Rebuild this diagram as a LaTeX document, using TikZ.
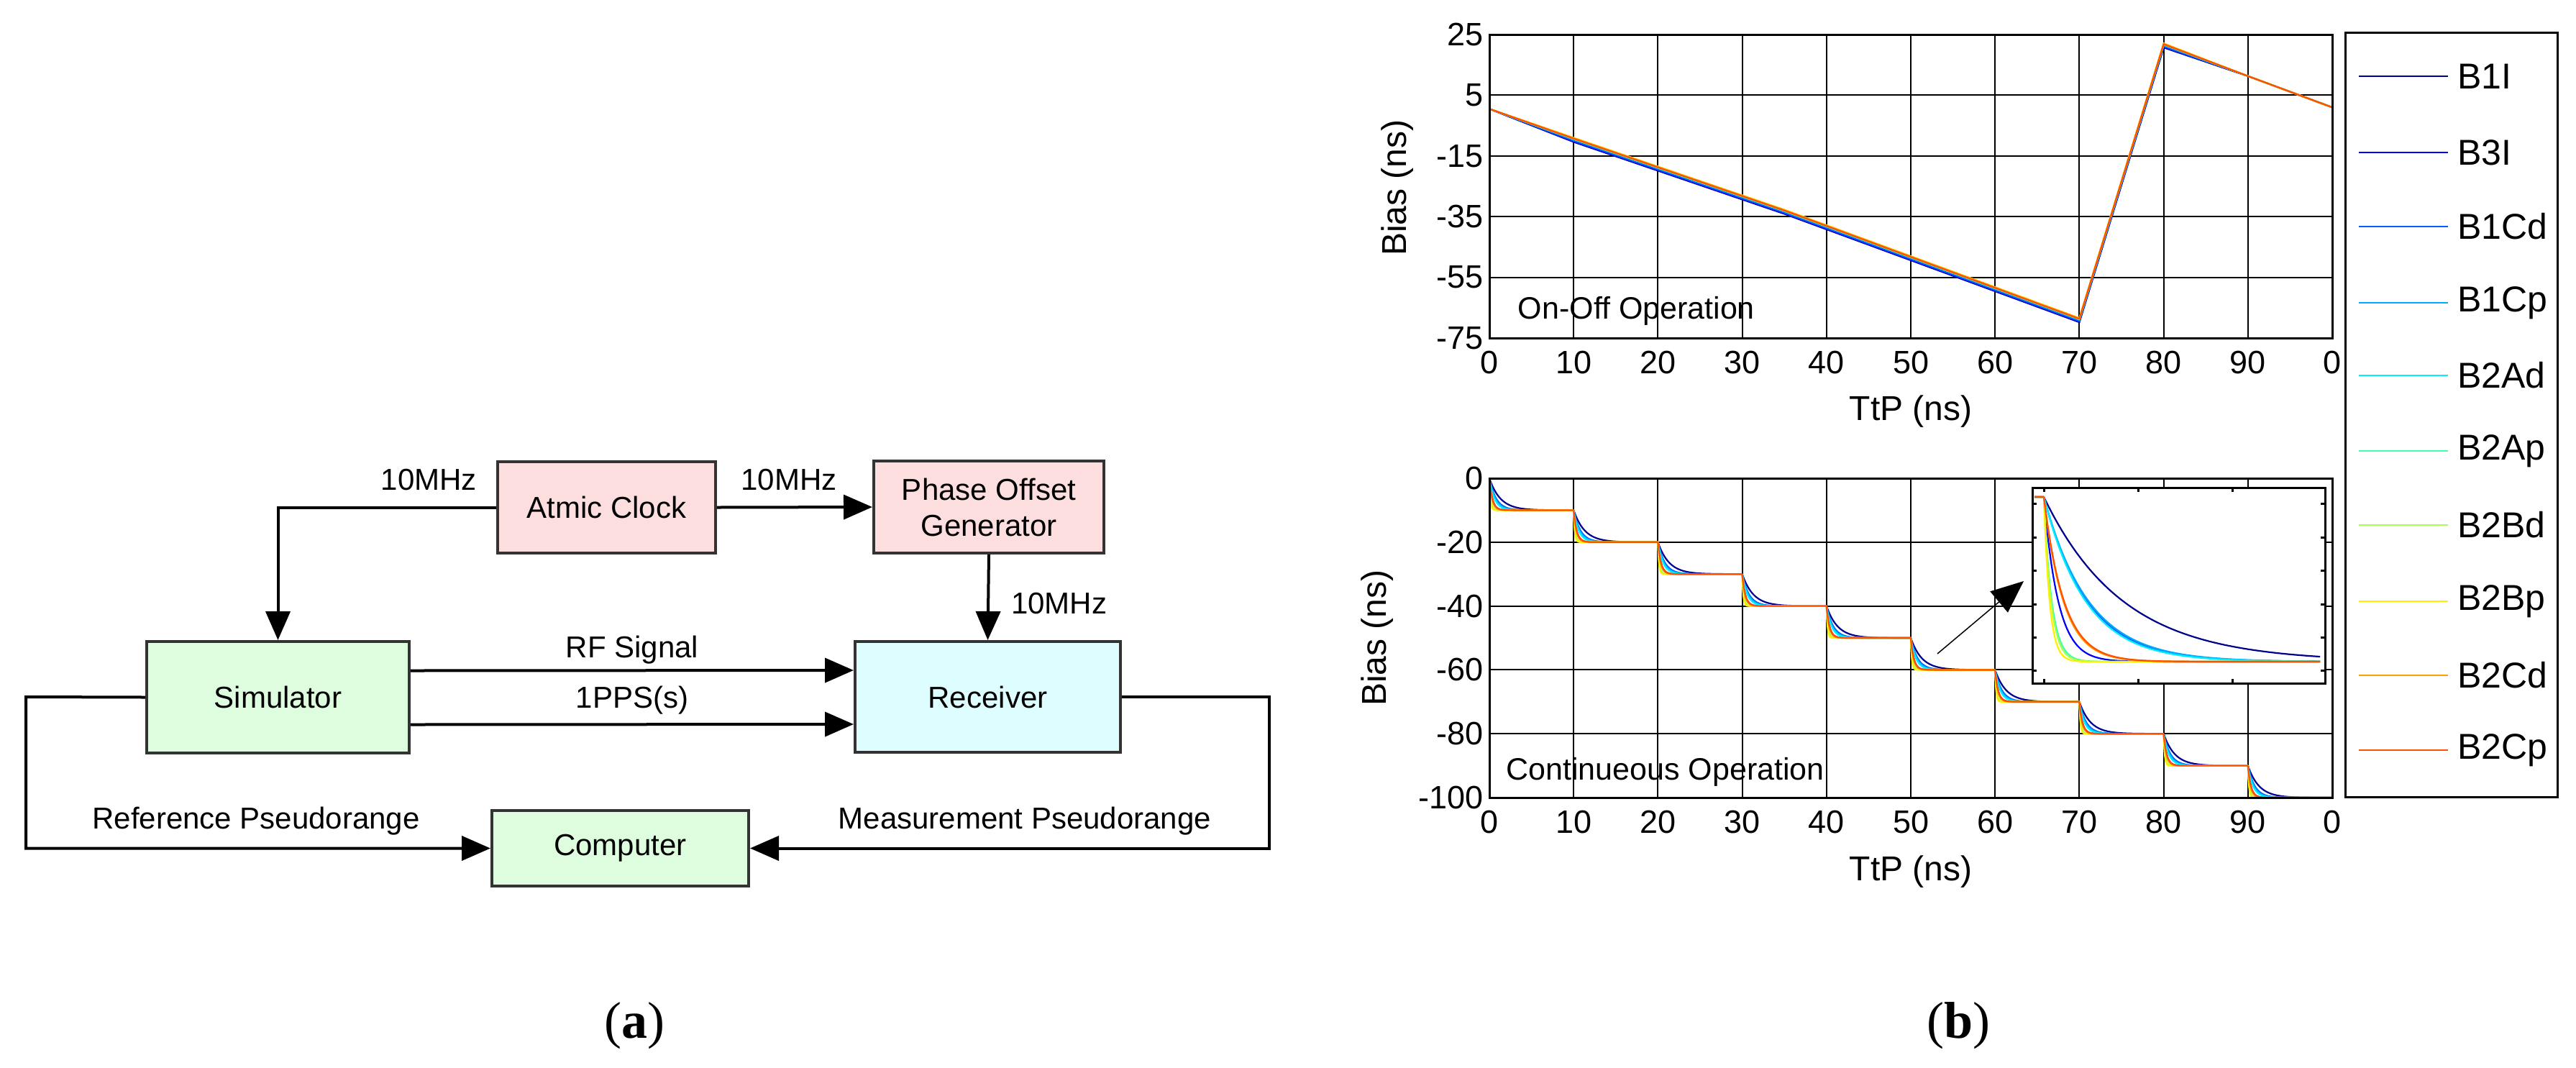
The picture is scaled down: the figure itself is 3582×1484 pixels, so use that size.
\documentclass[tikz,border=0pt]{standalone}
\usepackage{fontspec}
\setmainfont{Liberation Sans}
\newfontfamily\capfont{Liberation Serif}
\usetikzlibrary{arrows.meta}
\usetikzlibrary{calc}

\definecolor{clockpink}{HTML}{FDDEDF}
\definecolor{simgreen}{HTML}{DEFDDE}
\definecolor{rxcyan}{HTML}{DEFDFE}
\definecolor{cBoneI}{HTML}{00008F}
\definecolor{cBthreeI}{HTML}{0000FF}
\definecolor{cBoneCd}{HTML}{0060FF}
\definecolor{cBoneCp}{HTML}{00A8FF}
\definecolor{cBtwoAd}{HTML}{00F0FF}
\definecolor{cBtwoAp}{HTML}{40FFA8}
\definecolor{cBtwoBd}{HTML}{A8FF50}
\definecolor{cBtwoBp}{HTML}{FFF000}
\definecolor{cBtwoCd}{HTML}{FFA000}
\definecolor{cBtwoCp}{HTML}{FF5000}

\tikzset{
  block/.style={draw=black!80, line width=4pt, font=\fontsize{42}{50}\selectfont, align=center, inner sep=0pt},
  sig/.style={line width=4pt, -{Triangle[length=40pt,width=34pt]}},
  wire/.style={line width=4pt},
  lbl/.style={font=\fontsize{42}{50}\selectfont, inner sep=0pt},
  tick/.style={font=\fontsize{45}{50}\selectfont, inner sep=0pt},
  axlbl/.style={font=\fontsize{48}{55}\selectfont, inner sep=0pt},
  grid/.style={line width=2pt, black},
  curve/.style={line width=2.2pt},
}

\begin{document}
\begin{tikzpicture}[x=1pt,y=-1pt]
    \useasboundingbox (0,0) rectangle (3582,1484);

    % (a) block diagram
    \node[block, fill=clockpink, minimum width=303pt, minimum height=127pt] (clock) at (843.5,705.5) {Atmic Clock};
    \node[block, fill=clockpink, minimum width=320pt, minimum height=128pt] (phase) at (1375,705) {Phase Offset\\Generator};
    \node[block, fill=simgreen, minimum width=365pt, minimum height=155pt] (sim) at (386.5,969.5) {Simulator};
    \node[block, fill=rxcyan, minimum width=369pt, minimum height=154pt] (rx) at (1373.5,969) {Receiver};
    \node[block, fill=simgreen, minimum width=357pt, minimum height=105pt] (comp) at (862.5,1179.5) {Computer};

    \coordinate (leftloop) at (36,969);
    \coordinate (rightloop) at (1765,969);

    \draw[sig] (clock.west) -| (sim.north);
    \draw[sig] (clock.east) -- (phase.west);
    \draw[sig] (phase.south) -- (rx.north);
    \draw[sig] ([yshift=37pt]sim.east) -- ([yshift=37pt]rx.west);
    \draw[sig] ([yshift=-38pt]sim.east) -- ([yshift=-38pt]rx.west);
    \draw[sig] (sim.west) -- (leftloop) |- (comp.west);
    \draw[sig] (rx.east) -- (rightloop) |- (comp.east);

    \node[lbl, anchor=east] (fa) at (663,667) {10MHz};
    \node[lbl] (fb) at (1097,667) {10MHz};
    \node[lbl, anchor=west] (fc) at (1406,839) {10MHz};
    \node[lbl] (rf) at (879,904) {RF Signal};
    \node[lbl] (pps) at (879,974) {1PPS(s)};
    \node[lbl] (refpr) at (356,1142) {Reference Pseudorange};
    \node[lbl] (measpr) at (1425,1142) {Measurement Pseudorange};

    % (b) bias curves, upper panel
    \begin{scope}[shift={(2071,153.5)}, x=11.72pt, y=4.22pt]
      \foreach \v in {10,20,...,90} \draw[grid] (\v,-75) -- (\v,25);
      \foreach \v in {5,-15,-35,-55} \draw[grid] (0,\v) -- (100,\v);
      \foreach \v in {25,5,-15,-35,-55,-75} \node[tick, anchor=east] at ([xshift=-8pt]0,\v) {\v};
      \foreach \v in {0,10,...,90} \node[tick, anchor=north] at ([yshift=-18pt]\v,-75) {\v};
      \node[tick, anchor=north] at ([yshift=-18pt]100,-75) {0};
      \foreach \c/\d in {cBoneI/-0.8,cBthreeI/-0.6,cBoneCd/-0.4,cBoneCp/0.3,cBtwoAd/0.2,cBtwoAp/0.1,cBtwoBd/0.4,cBtwoBp/0.6,cBtwoCd/0.5,cBtwoCp/0.3}
        \draw[curve, \c] (0,0.5) -- (10,{-9.6+\d}) -- (35,{-33.3+\d}) -- (70,{-69+\d}) -- (80,{21.5+\d}) -- (90,11.3) -- (100,1);
      \draw[line width=3pt] (0,-75) rectangle (100,25);
      \node[font=\fontsize{43}{50}\selectfont, anchor=west] (onoff) at (3.1,-66) {On-Off Operation};
    \end{scope}
    \node[axlbl] (ttpa) at (2657,572) {TtP (ns)};
    \node[axlbl, rotate=90] (biasa) at (1943,261) {Bias (ns)};

    % lower panel
    \begin{scope}[shift={(2071,665)}, x=11.72pt, y=4.44pt]
      \foreach \v in {10,20,...,90} \draw[grid] (\v,-100) -- (\v,0);
      \foreach \v in {-20,-40,-60,-80} \draw[grid] (0,\v) -- (100,\v);
      \foreach \v in {0,-20,-40,-60,-80,-100} \node[tick, anchor=east] at ([xshift=-8pt]0,\v) {\v};
      \foreach \v in {0,10,...,90} \node[tick, anchor=north] at ([yshift=-18pt]\v,-100) {\v};
      \node[tick, anchor=north] at ([yshift=-18pt]100,-100) {0};
      \foreach \c/\t in {cBoneI/1.3,cBthreeI/0.35,cBoneCd/0.8,cBoneCp/0.7,cBtwoAd/0.6,cBtwoAp/0.15,cBtwoBd/0.18,cBtwoBp/0.12,cBtwoCd/0.3,cBtwoCp/0.35}
        \foreach \k in {0,...,9}
          \draw[curve, \c] plot[domain=0:3.1623, samples=28, smooth]
            ({10*\k+\x*\x}, {-10*\k-10*(1-exp(-min(\x*\x/\t,20)))});
      \draw[line width=3pt] (0,-100) rectangle (100,0);
      \node[font=\fontsize{43}{50}\selectfont, anchor=west] (contop) at (1.7,-92) {Continueous Operation};
    \end{scope}
    \node[axlbl] (ttpb) at (2657,1212) {TtP (ns)};
    \node[axlbl, rotate=90] (biasb) at (1915,887) {Bias (ns)};

    % zoomed inset
    \fill[white] (2826,678) rectangle (3233,950);
    \foreach \c/\t in {cBoneI/110,cBthreeI/20,cBoneCd/60,cBoneCp/62,cBtwoAd/58,cBtwoAp/11,cBtwoBd/10,cBtwoBp/8,cBtwoCd/27,cBtwoCp/28}
      \draw[curve, \c] (2829,691) -- (2842,691)
        plot[domain=0:19.6, samples=50, smooth] ({2842+\x*\x}, {691+229*(1-exp(-min(\x*\x/\t,20)))});
    \draw[line width=3pt] (2826,678) rectangle (3233,950);
    \foreach \p in {2842,2973,3104} {
      \draw[line width=3pt] (\p,950) -- (\p,944);
      \draw[line width=3pt] (\p,678) -- (\p,684);
    }
    \foreach \q in {700,747,793,840,886,932} {
      \draw[line width=3pt] (2826,\q) -- (2832,\q);
      \draw[line width=3pt] (3233,\q) -- (3227,\q);
    }
    \coordinate (zoomsrc) at (2694,909);
    \coordinate (zoomdst) at (2814,808);
    \draw[line width=1.5pt, -{Triangle[length=45pt,width=38pt]}] (zoomsrc) -- (zoomdst);

    % legend
    \draw[line width=3pt] (3261,45) rectangle (3556,1108);
    \foreach \c/\n/\y in {cBoneI/B1I/106,cBthreeI/B3I/212,cBoneCd/B1Cd/315,cBoneCp/B1Cp/421,cBtwoAd/B2Ad/522,cBtwoAp/B2Ap/627,cBtwoBd/B2Bd/730,cBtwoBp/B2Bp/836,cBtwoCd/B2Cd/939,cBtwoCp/B2Cp/1043} {
      \draw[curve, \c] (3280,\y) -- (3404,\y);
      \node[font=\fontsize{50}{55}\selectfont, anchor=west, inner sep=0pt] at (3417,\y) {\n};
    }

    % captions
    \node[font=\capfont\fontsize{72}{80}\selectfont] (capa) at (882,1426) {(\textbf{a})};
    \node[font=\capfont\fontsize{72}{80}\selectfont] (capb) at (2723,1426) {(\textbf{b})};
\end{tikzpicture}
\end{document}
